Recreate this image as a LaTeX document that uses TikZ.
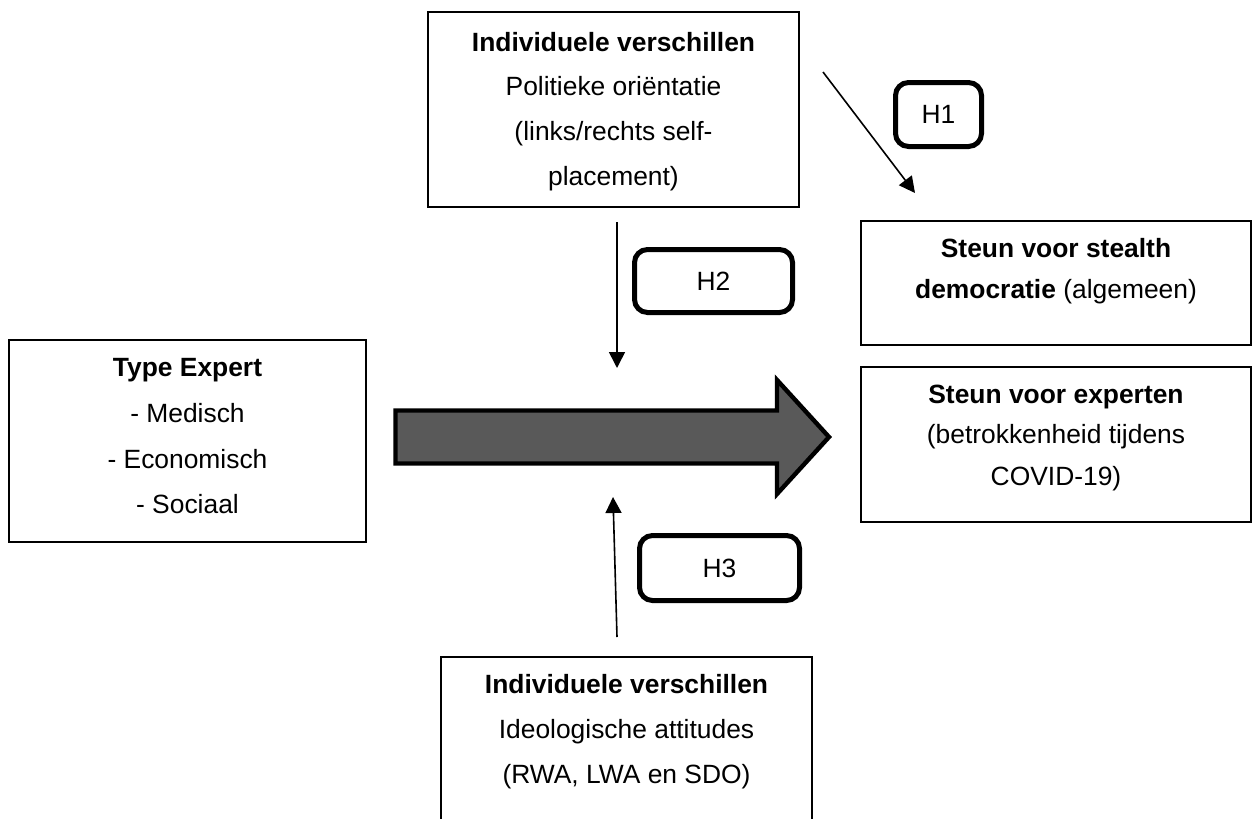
\documentclass[tikz,border=0pt]{standalone}
\usepackage{fontspec}
\setmainfont{Liberation Sans}
\usetikzlibrary{arrows.meta}
\definecolor{arrowgray}{RGB}{89,89,89}
\begin{document}
\begin{tikzpicture}[x=0.5pt,y=-0.5pt,
  box/.style={draw=black, line width=1.1pt, rectangle, inner sep=0pt},
  hbox/.style={draw=black, line width=2.5pt, rectangle, rounded corners=6.5pt, inner sep=0pt, font=\fontsize{13.2pt}{15pt}\selectfont},
  ln/.style={anchor=base, inner sep=0pt, font=\fontsize{13.2pt}{15pt}\selectfont},
  conn/.style={line width=0.8pt, -{Triangle[length=8pt,width=8pt]}},
  bigarrow/.style={draw=black, line width=2.2pt, fill=arrowgray, miter limit=10}
]
\useasboundingbox (0,0) rectangle (1253,819);
\clip (0,0) rectangle (1253,819);

% boxes
\node[box, minimum width=185.5pt, minimum height=97.5pt] (top) at (613.5,109.5) {};
\node[box, minimum width=178.5pt, minimum height=101pt] (type) at (187.5,441) {};
\node[box, minimum width=195pt, minimum height=62pt] (stealth) at (1056,283) {};
\node[box, minimum width=195pt, minimum height=77.5pt] (experten) at (1056,444.5) {};
\node[box, minimum width=185.5pt, minimum height=91.5pt] (bottom) at (626.5,748.5) {};

% texts
\node[ln] (top1) at (613.5,51) {\bfseries Individuele verschillen};
\node[ln] (top2) at (613.5,95) {Politieke oriëntatie};
\node[ln] (top3) at (613.5,140) {(links/rechts self-};
\node[ln] (top4) at (613.5,185) {placement)};

\node[ln] (type1) at (187.5,376) {\bfseries Type Expert};
\node[ln] (type2) at (187.5,422) {- Medisch};
\node[ln] (type3) at (187.5,468) {- Economisch};
\node[ln] (type4) at (187.5,513) {- Sociaal};

\node[ln] (st1) at (1056,257) {\bfseries Steun voor stealth};
\node[ln] (st2) at (1056,298) {\textbf{democratie} (algemeen)};

\node[ln] (ex1) at (1056,403) {\bfseries Steun voor experten};
\node[ln] (ex2) at (1056,443) {(betrokkenheid tijdens};
\node[ln] (ex3) at (1056,485) {COVID-19)};

\node[ln] (bo1) at (626.5,693) {\bfseries Individuele verschillen};
\node[ln] (bo2) at (626.5,738) {Ideologische attitudes};
\node[ln] (bo3) at (626.5,783) {(RWA, LWA en SDO)};

% hypothesis labels
\node[hbox, minimum width=43pt, minimum height=32pt] (h1) at (938.5,114.5) {H1};
\node[hbox, minimum width=79pt, minimum height=31.5pt] (h2) at (713.5,281) {H2};
\node[hbox, minimum width=80pt, minimum height=32.5pt] (h3) at (719.5,568) {H3};

% big arrow
\draw[bigarrow] (395.5,410.5) -- (777,410.5) -- (777,380) -- (829,437) -- (777,494) -- (777,463.5) -- (395.5,463.5) -- cycle;

% connectors
\coordinate (h1s) at (823,72);
\coordinate (h1e) at (915,193);
\coordinate (h2s) at (617,222);
\coordinate (h2e) at (617,368);
\coordinate (h3s) at (617,637);
\coordinate (h3e) at (613,497);
\draw[conn] (h1s) -- (h1e);
\draw[conn] (h2s) -- (h2e);
\draw[conn] (h3s) -- (h3e);
\end{tikzpicture}
\end{document}
